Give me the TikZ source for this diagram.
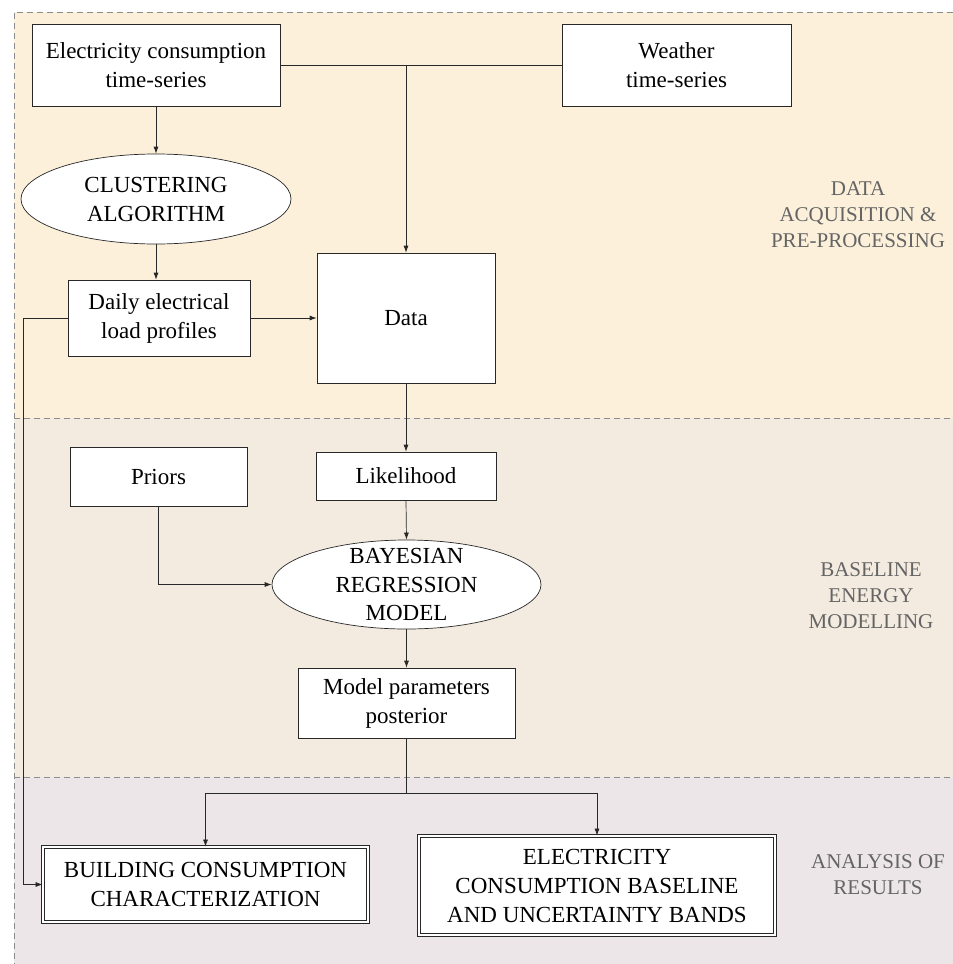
\documentclass[tikz,border=0pt]{standalone}
\usepackage{fontspec}
\setmainfont{Liberation Serif}
\usetikzlibrary{shapes.geometric,arrows.meta}
\definecolor{bandA}{RGB}{252,240,219}
\definecolor{bandB}{RGB}{243,235,224}
\definecolor{bandC}{RGB}{237,230,232}
\definecolor{dashgray}{RGB}{140,140,140}
\definecolor{labelgray}{RGB}{100,100,100}
\definecolor{edgecol}{RGB}{40,40,40}
\begin{document}
\begin{tikzpicture}[x=1pt,y=-1pt,
 box/.style={draw=edgecol, fill=white, line width=0.7pt, align=center, inner sep=0pt, font=\fontsize{23}{29}\selectfont},
 ell/.style={box, ellipse},
 txt/.style={align=center, inner sep=0pt, font=\fontsize{23}{28.5}\selectfont},
 dbox/.style={box, double=white, double distance=2pt, line width=0.8pt},
 lab/.style={text=labelgray, align=center, font=\fontsize{21}{26}\selectfont},
 arr/.style={draw=edgecol, line width=0.7pt, -{Latex[length=7pt,width=5pt]}},
 ln/.style={draw=edgecol, line width=0.7pt},
 sep/.style={draw=dashgray, dash pattern=on 6pt off 4pt, line width=0.8pt}]
\useasboundingbox (0,0) rectangle (953,964);
% bands
\fill[bandA] (14,12) rectangle (953,418);
\fill[bandB] (14,418) rectangle (953,777);
\fill[bandC] (14,777) rectangle (953,964);
\draw[sep] (953,12) -- (14,12) -- (14,964);
\draw[sep] (14,418) -- (953,418);
\draw[sep] (14,777) -- (953,777);
% nodes
\node[box, minimum width=248pt, minimum height=82pt] (elec) at (156,65) {Electricity consumption\\time-series};
\node[box, minimum width=229pt, minimum height=82pt] (weather) at (676.5,65) {Weather\\time-series};
\node[ell, minimum width=270pt, minimum height=90pt] (clust) at (156,199) {CLUSTERING\\ALGORITHM};
\node[box, minimum width=182pt, minimum height=76pt] (daily) at (159,318) {Daily electrical\\load profiles};
\node[box, minimum width=178pt, minimum height=130pt] (data) at (406,318) {Data};
\node[box, minimum width=180pt, minimum height=48pt] (like) at (406,476) {Likelihood};
\node[box, minimum width=177pt, minimum height=59pt] (priors) at (158.5,476.5) {Priors};
\node[ell, minimum width=269pt, minimum height=89pt] (bayes) at (406.5,584.5) {};
\node[txt] (bayestext) at (bayes.center) {BAYESIAN\\REGRESSION\\MODEL};
\node[box, minimum width=217pt, minimum height=70pt] (model) at (406.5,703) {Model parameters\\posterior};
\node[dbox, minimum width=325pt, minimum height=75pt] (build) at (205.5,884.5) {BUILDING CONSUMPTION\\CHARACTERIZATION};
\node[dbox, minimum width=356pt, minimum height=99pt] (base) at (597,885.5) {ELECTRICITY\\CONSUMPTION BASELINE\\AND UNCERTAINTY BANDS};
% labels
\node[lab] (l1) at (858,215) {DATA\\ACQUISITION \&\\PRE-PROCESSING};
\node[lab] (l2) at (871,596) {BASELINE\\ENERGY\\MODELLING};
\node[lab] (l3) at (878,875) {ANALYSIS OF\\RESULTS};
% connectors
\coordinate (j1) at (data.north |- elec.east);
\draw[ln] (elec.east) -- (weather.west);
\draw[arr] (j1) -- (data.north);
\draw[arr] (elec.south) -- (clust.north);
\draw[arr] (clust.south) -- (clust.south |- daily.north);
\draw[arr] (daily.east) -- (data.west);
\coordinate (dl) at (23,318);
\draw[arr] (daily.west) -- (dl) |- (build.west);
\draw[arr] (data.south) -- (like.north);
\draw[arr] (like.south) -- (bayes.north);
\draw[arr] (priors.south) |- (bayes.west);
\draw[arr] (bayes.south) -- (model.north);
\coordinate (split) at (406.5,793);
\draw[ln] (model.south) -- (split);
\draw[arr] (split) -| (build.north);
\draw[arr] (split) -| (base.north);
\end{tikzpicture}
\end{document}
